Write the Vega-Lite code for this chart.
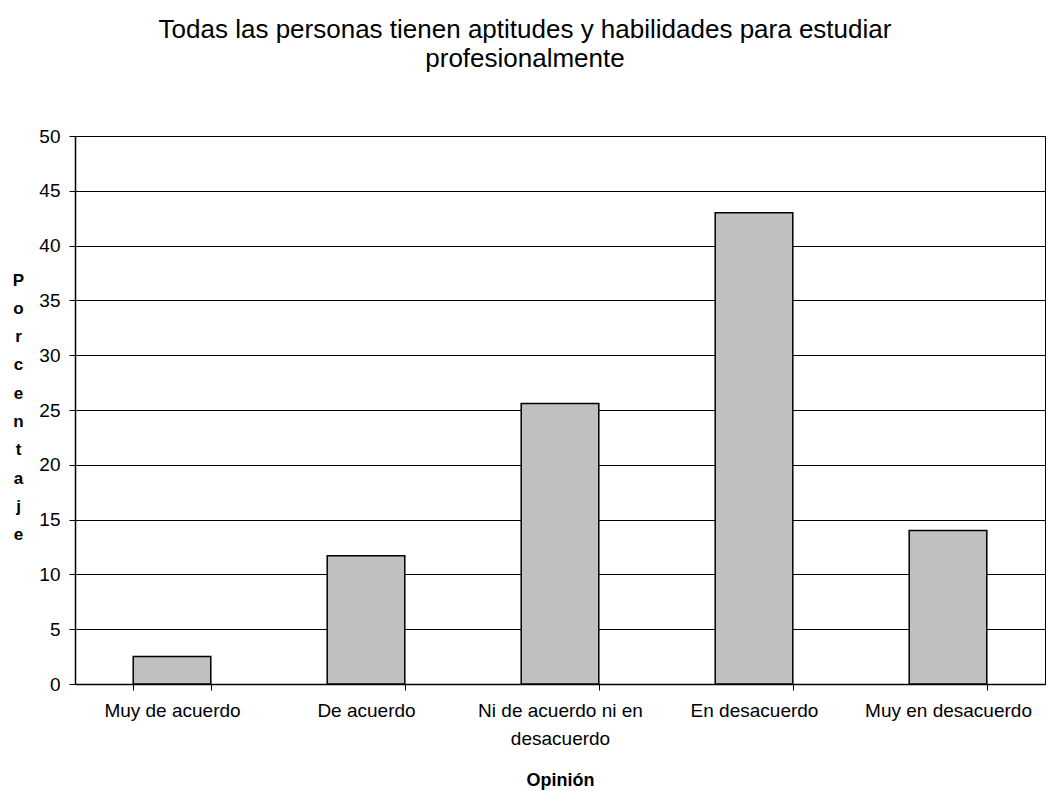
{
  "$schema": "https://vega.github.io/schema/vega-lite/v6.json",
  "autosize": {"type": "none"},
  "width": 970,
  "height": 548,
  "padding": {"left": 75, "top": 136, "right": 3, "bottom": 107},
  "background": "white",
  "title": {
    "text": ["Todas las personas tienen aptitudes y habilidades para estudiar", "profesionalmente"],
    "font": "Liberation Sans",
    "fontSize": 26,
    "fontWeight": "normal",
    "color": "#000",
    "lineHeight": 29,
    "anchor": "middle",
    "dx": -35,
    "offset": 55
  },
  "config": {
    "view": {"stroke": "#000", "strokeWidth": 1},
    "axis": {
      "labelFont": "Liberation Sans",
      "labelFontSize": 19,
      "labelColor": "#000",
      "titleFont": "Liberation Sans",
      "titleColor": "#000",
      "domainColor": "#000",
      "tickColor": "#000",
      "gridColor": "#000"
    }
  },
  "data": {
    "values": [
      {"opinion": "Muy de acuerdo", "porcentaje": 2.5},
      {"opinion": "De acuerdo", "porcentaje": 11.7},
      {"opinion": "Ni de acuerdo ni en desacuerdo", "porcentaje": 25.6},
      {"opinion": "En desacuerdo", "porcentaje": 43.0},
      {"opinion": "Muy en desacuerdo", "porcentaje": 14.0}
    ]
  },
  "mark": {"type": "bar", "fill": "#c0c0c0", "stroke": "#000", "strokeWidth": 1.5},
  "encoding": {
    "x": {
      "field": "opinion",
      "type": "nominal",
      "sort": null,
      "scale": {"paddingInner": 0.6, "paddingOuter": 0.3},
      "axis": {
        "title": "Opinión",
        "titleFontSize": 18,
        "titleFontWeight": "bold",
        "titleX": 485,
        "titleY": 96,
        "titleBaseline": "middle",
        "titleAnchor": null,
        "labelAngle": 0,
        "labelPadding": 11,
        "labelLineHeight": 28,
        "labelExpr": "datum.value == 'Ni de acuerdo ni en desacuerdo' ? ['Ni de acuerdo ni en', 'desacuerdo'] : datum.value",
        "tickBand": "extent",
        "tickSize": 6,
        "grid": false,
        "domainWidth": 1.5
      }
    },
    "y": {
      "field": "porcentaje",
      "type": "quantitative",
      "scale": {"domain": [0, 50], "nice": false},
      "axis": {
        "title": ["P", "o", "r", "c", "e", "n", "t", "a", "j", "e"],
        "titleFontSize": 17,
        "titleFontWeight": "bold",
        "titleAngle": 0,
        "titleLineHeight": 28.3,
        "titleX": -57,
        "titleY": 144,
        "titleAlign": "center",
        "titleBaseline": "middle",
        "values": [0, 5, 10, 15, 20, 25, 30, 35, 40, 45, 50],
        "tickSize": 6,
        "labelPadding": 9,
        "grid": true,
        "gridWidth": 1,
        "domainWidth": 1.5
      }
    }
  }
}
